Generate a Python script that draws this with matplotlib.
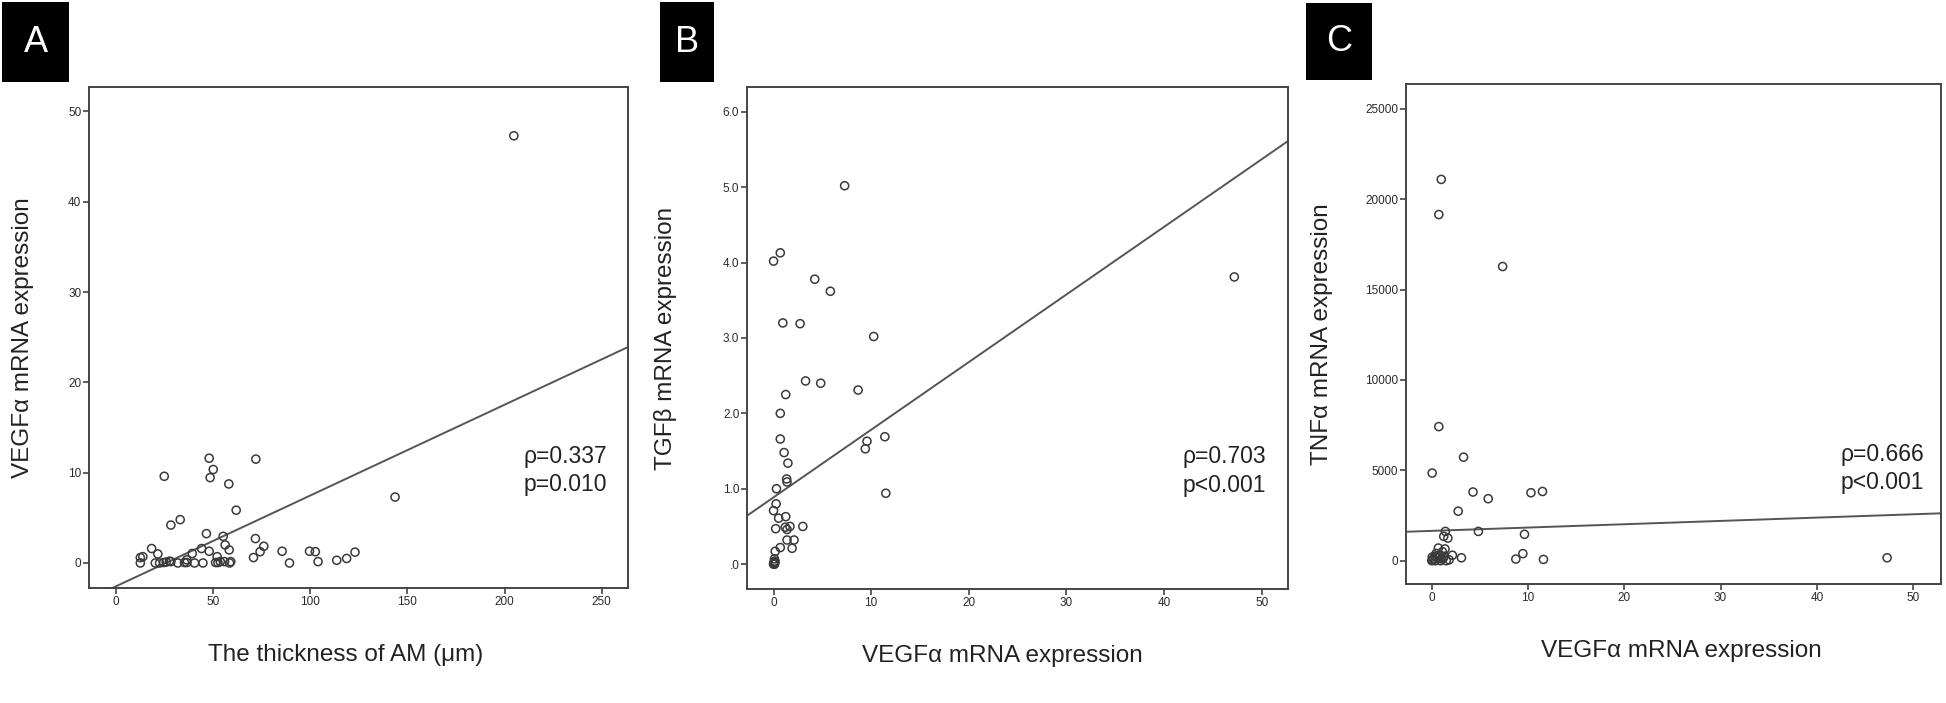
import numpy as np
import matplotlib
matplotlib.use("Agg")
import matplotlib.pyplot as plt
from matplotlib.patches import Rectangle

plt.rcParams.update({
    "font.family": ["Liberation Sans", "DejaVu Sans"],
})

# ---- panel A: thickness of AM vs VEGFa ----
thick = [204.8, 143.7, 48.1, 72.1, 50.2, 25.0, 48.6, 58.2, 62.0, 33.2,
         28.4, 46.7, 55.3, 71.9, 56.3, 76.2, 18.5, 44.2, 58.4, 48.1,
         85.6, 99.7, 102.7, 123.1, 39.4, 21.7, 12.7, 14.0, 70.9, 118.8,
         113.7, 74.3, 104.1, 89.4, 52.2, 36.6, 27.7, 12.7, 20.4, 22.6,
         24.7, 26.0, 28.4, 32.0, 35.4, 36.6, 40.6, 44.9, 51.4, 52.6,
         53.8, 56.0, 58.6, 59.2]
vegf_a = [47.3, 7.3, 11.6, 11.5, 10.35, 9.6, 9.45, 8.75, 5.85, 4.8,
          4.2, 3.25, 2.95, 2.7, 2.0, 1.85, 1.6, 1.6, 1.45, 1.3,
          1.3, 1.3, 1.25, 1.2, 1.05, 1.0, 0.6, 0.7, 0.6, 0.5,
          0.3, 1.25, 0.15, 0.0, 0.7, 0.35, 0.2, 0.0, 0.0, 0.0,
          0.05, 0.1, 0.15, 0.0, 0.05, 0.05, 0.0, 0.0, 0.05, 0.05,
          0.15, 0.15, 0.0, 0.15]
fit_a = (-2.6, 0.1006)          # intercept, slope

# ---- panel B: VEGFa vs TGFb ----
vegf_b = [7.28, 0.69, 0.0, 4.22, 5.82, 47.2, 0.95, 2.72, 10.26, 3.28,
          4.83, 8.66, 1.25, 0.69, 0.69, 9.57, 9.4, 11.4, 1.08, 1.47,
          1.34, 1.38, 11.5, 0.3, 0.26, 0.0, 0.52, 1.25, 0.22, 1.2,
          1.68, 3.0, 1.38, 1.38, 2.1, 1.9, 0.69, 0.17, 0.09, 0.0,
          0.05, 0.1, 0.15, 0.02, 0.08, 0.12]
tgfb = [5.02, 4.13, 4.02, 3.78, 3.62, 3.81, 3.20, 3.19, 3.02, 2.43,
        2.40, 2.31, 2.25, 2.0, 1.66, 1.63, 1.53, 1.69, 1.48, 1.34,
        1.13, 1.09, 0.94, 1.0, 0.80, 0.71, 0.61, 0.63, 0.47, 0.49,
        0.50, 0.50, 0.46, 0.32, 0.32, 0.21, 0.22, 0.17, 0.07, 0.0,
        0.02, 0.0, 0.03, 0.01, 0.0, 0.04]
fit_b = (0.886, 0.0897)

# ---- panel C: VEGFa vs TNFa ----
vegf_c = [0.98, 0.73, 7.36, 0.73, 3.30, 0.04, 4.28, 5.86, 10.3, 11.5,
          2.74, 4.84, 9.63, 1.41, 1.24, 1.67, 47.3, 8.73, 9.46, 11.6,
          3.08, 0.68, 1.37, 2.14, 0.0, 0.1, 0.2, 0.3, 0.45, 0.6,
          0.8, 1.0, 1.1, 1.3, 1.5, 1.8, 0.35, 0.9, 1.2, 0.05]
tnf = [21100, 19155, 16280, 7420, 5730, 4850, 3800, 3430, 3760, 3830,
       2740, 1620, 1460, 1620, 1345, 1250, 160, 90, 390, 70,
       160, 700, 650, 300, 0, 50, 100, 250, 400, 150,
       300, 100, 500, 250, 0, 50, 0, 0, 150, 200]
fit_c = (1650.0, 18.35)

panels = [
    dict(x=thick, y=vegf_a, fit=fit_a, rect=(89, 87, 628, 588),
         xlim=(-13.7, 263.5), ylim=(-2.77, 52.7),
         xticks=[0, 50, 100, 150, 200, 250], yticks=[0, 10, 20, 30, 40, 50],
         ytl=None, xlabel="The thickness of AM (μm)", ylabel="VEGFα mRNA expression",
         stats=("ρ=0.337", "p=0.010"), txy=(0.807, 0.262), letter="A",
         box=(2, 2, 69, 82), ylc=-0.102, xlc=0.476),
    dict(x=vegf_b, y=tgfb, fit=fit_b, rect=(747, 87, 1288, 589),
         xlim=(-2.72, 52.7), ylim=(-0.33, 6.33),
         xticks=[0, 10, 20, 30, 40, 50], yticks=[0, 1, 2, 3, 4, 5, 6],
         ytl=[".0", "1.0", "2.0", "3.0", "4.0", "5.0", "6.0"],
         xlabel="VEGFα mRNA expression", ylabel="TGFβ mRNA expression",
         stats=("ρ=0.703", "p<0.001"), txy=(0.805, 0.263), letter="B",
         box=(660, 2, 714, 82), ylc=-0.129, xlc=0.472),
    dict(x=vegf_c, y=tnf, fit=fit_c, rect=(1406, 84, 1941, 584),
         xlim=(-2.68, 52.9), ylim=(-1290, 26380),
         xticks=[0, 10, 20, 30, 40, 50], yticks=[0, 5000, 10000, 15000, 20000, 25000],
         ytl=None, xlabel="VEGFα mRNA expression", ylabel="TNFα mRNA expression",
         stats=("ρ=0.666", "p<0.001"), txy=(0.813, 0.258), letter="C",
         box=(1306, 3, 1372, 80), ylc=-0.136, xlc=0.514),
]

W, H = 1946, 703
fig = plt.figure(figsize=(W / 100, H / 100), dpi=100)
EDGE = "#3a3a3a"

for p in panels:
    x0, y0, x1, y1 = p["rect"]
    ax = fig.add_axes([x0 / W, 1 - y1 / H, (x1 - x0) / W, (y1 - y0) / H])
    ax.scatter(p["x"], p["y"], s=34, facecolors="none", edgecolors=EDGE, linewidths=1.1, zorder=3)
    b0, b1 = p["fit"]
    lx = np.array(p["xlim"])
    ax.plot(lx, b0 + b1 * lx, color="#555555", lw=1.4, zorder=2)
    ax.set_xlim(*p["xlim"]); ax.set_ylim(*p["ylim"])
    ax.set_xticks(p["xticks"]); ax.set_yticks(p["yticks"])
    if p["ytl"]:
        ax.set_yticklabels(p["ytl"])
    ax.tick_params(direction="out", length=4, width=1.2, color="#444444",
                   labelsize=8.5, labelcolor="#2a2a2a", top=False, right=False, pad=1.5)
    for s in ax.spines.values():
        s.set_color("#444444"); s.set_linewidth(1.4)
    ax.set_xlabel(p["xlabel"], fontsize=17.5, color="#222222")
    ax.set_ylabel(p["ylabel"], fontsize=17.5, color="#222222")
    ax.xaxis.set_label_coords(p["xlc"], -0.112)
    ax.yaxis.set_label_coords(p["ylc"], 0.5)
    tx, ty = p["txy"]
    ax.text(tx, ty, p["stats"][0], transform=ax.transAxes, fontsize=16.5, va="center", color="#222222")
    ax.text(tx, ty - 0.056, p["stats"][1], transform=ax.transAxes, fontsize=16.5, va="center", color="#222222")

    bx0, by0, bx1, by1 = p["box"]
    fig.patches.append(Rectangle((bx0 / W, 1 - by1 / H), (bx1 - bx0) / W, (by1 - by0) / H,
                                 transform=fig.transFigure, facecolor="black", edgecolor="none"))
    fig.text((bx0 + bx1) / 2 / W, 1 - (by0 + by1) / 2 / H, p["letter"], color="white",
             fontsize=26, ha="center", va="center")

fig.savefig("out.png", dpi=100)
